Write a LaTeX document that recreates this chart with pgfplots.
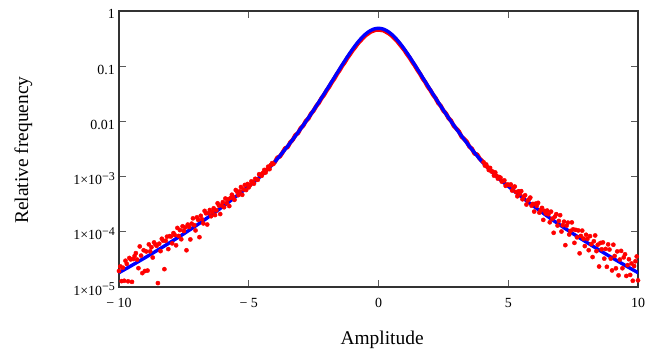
\documentclass[border=0pt]{standalone}
\usepackage{fontspec}
\setmainfont{Liberation Serif}
\usepackage{pgfplots}
\pgfplotsset{compat=1.18}
\newcommand{\ysup}[1]{1×10\raisebox{4.3bp}{\fontsize{12}{12}\selectfont −#1}}
\begin{document}
\begin{tikzpicture}
\begin{axis}[
  scale only axis, width=519bp, height=276bp,
  at={(0,0)}, anchor=south west,
  xmin=-10, xmax=10, ymin=1e-5, ymax=1, ymode=log,
  xtick={-10,-5,0,5,10},
  xticklabels={− 10,− 5,0,5,10},
  ytick={1e-5,1e-4,1e-3,1e-2,1e-1,1},
  yticklabels={\ysup{5},\ysup{4},\ysup{3},0.01,0.1,1},
  yminorticks=false, xminorticks=false,
  tick align=inside,
  major tick length=7bp,
  axis line style={black!80, line width=1.2bp},
  every tick/.style={black!65, line width=1.2bp},
  xticklabel style={font=\fontsize{14}{16}\selectfont, anchor=base, inner sep=0pt, yshift=-20bp},
  yticklabel style={font=\fontsize{14}{16}\selectfont, anchor=base east, inner sep=0pt, xshift=-4bp, yshift=-8bp},
  xlabel={Amplitude},
  xlabel style={font=\fontsize{19.5}{22}\selectfont, at={(axis description cs:0.507,-0.210)}, anchor=base, inner sep=0pt},
  ylabel={Relative frequency},
  ylabel style={font=\fontsize{19.5}{22}\selectfont, at={(axis description cs:-0.1753,0.496)}, anchor=base, inner sep=0pt},
]
% measured relative frequency (red), left tail
\addplot[only marks, mark=*, mark size=2.1bp, red, mark options={draw=red, fill=red}] coordinates {
(-10.00,1.950e-5) (-9.95,2.360e-5) (-9.90,1.276e-5) (-9.85,2.239e-5) (-9.80,1.297e-5) (-9.75,2.992e-5) (-9.70,2.624e-5) (-9.65,1.268e-5) (-9.60,3.357e-5) (-9.55,3.162e-5)
(-9.50,1.239e-5) (-9.45,3.214e-5) (-9.40,3.631e-5) (-9.35,4.111e-5) (-9.30,3.141e-5) (-9.25,2.193e-5) (-9.20,5.433e-5) (-9.15,3.707e-5) (-9.10,1.786e-5) (-9.05,4.634e-5)
(-9.00,1.950e-5) (-8.95,4.406e-5) (-8.90,1.986e-5) (-8.85,5.916e-5) (-8.80,4.426e-5) (-8.75,5.248e-5) (-8.70,3.420e-5) (-8.65,6.427e-5) (-8.60,5.929e-5) (-8.55,5.585e-5)
(-8.50,1.178e-5) (-8.45,6.095e-5) (-8.40,4.467e-5) (-8.35,7.482e-5) (-8.30,6.902e-5) (-8.25,2.104e-5) (-8.20,6.887e-5) (-8.15,8.166e-5) (-8.10,4.864e-5) (-8.05,8.337e-5)
(-8.00,8.241e-5) (-7.95,6.180e-5) (-7.90,9.462e-5) (-7.85,8.730e-5) (-7.80,5.689e-5) (-7.75,1.175e-4) (-7.70,8.414e-5) (-7.65,1.072e-4) (-7.60,7.328e-5) (-7.55,1.259e-4)
(-7.50,1.035e-4) (-7.45,1.202e-4) (-7.40,4.634e-5) (-7.35,1.352e-4) (-7.30,1.222e-4) (-7.25,7.278e-5) (-7.20,1.406e-4) (-7.15,1.754e-4) (-7.10,1.315e-4) (-7.05,1.059e-4)
(-7.00,1.824e-4) (-6.95,1.648e-4) (-6.90,7.998e-5) (-6.85,1.950e-4) (-6.80,1.683e-4) (-6.75,1.419e-4) (-6.70,2.393e-4) (-6.65,2.163e-4) (-6.60,1.355e-4) (-6.55,2.178e-4)
(-6.50,2.483e-4) (-6.45,1.914e-4) (-6.40,2.286e-4) (-6.35,2.667e-4) (-6.30,2.009e-4) (-6.25,2.455e-4) (-6.20,3.289e-4) (-6.15,2.985e-4) (-6.10,2.099e-4) (-6.05,3.020e-4)
(-6.00,3.443e-4) (-5.95,2.786e-4) (-5.90,4.009e-4) (-5.85,3.311e-4) (-5.80,3.873e-4) (-5.75,2.924e-4) (-5.70,4.111e-4) (-5.65,4.699e-4) (-5.60,4.276e-4) (-5.55,3.793e-4)
(-5.50,5.715e-4) (-5.45,5.321e-4) (-5.40,4.613e-4) (-5.35,5.408e-4) (-5.30,6.471e-4) (-5.25,4.677e-4) (-5.20,5.875e-4) (-5.15,7.047e-4) (-5.10,5.715e-4) (-5.05,7.345e-4)
(-5.00,6.383e-4) (-4.95,6.982e-4) (-4.90,8.185e-4) (-4.85,7.980e-4) (-4.80,7.430e-4) (-4.75,9.120e-4) (-4.70,8.933e-4) (-4.65,8.750e-4) (-4.60,1.104e-3) (-4.55,1.081e-3)
(-4.50,1.035e-3) (-4.45,1.169e-3) (-4.40,1.321e-3) (-4.35,1.186e-3) (-4.30,1.340e-3) (-4.25,1.514e-3) (-4.20,1.365e-3) (-4.15,1.622e-3) (-4.10,1.754e-3) (-4.05,1.694e-3)
};
% measured relative frequency (red), centre
\addplot[red, line width=4.2bp, line join=round, line cap=round] coordinates {
(-4.0,1.801e-3) (-3.9,2.213e-3) (-3.8,2.308e-3) (-3.7,2.715e-3) (-3.6,3.261e-3) (-3.5,3.419e-3) (-3.4,4.177e-3) (-3.3,4.672e-3) (-3.2,5.668e-3) (-3.1,6.124e-3)
(-3.0,7.548e-3) (-2.9,8.360e-3) (-2.8,1.016e-2) (-2.7,1.130e-2) (-2.6,1.380e-2) (-2.5,1.566e-2) (-2.4,1.892e-2) (-2.3,2.157e-2) (-2.2,2.619e-2) (-2.1,3.011e-2)
(-2.0,3.631e-2) (-1.9,4.228e-2) (-1.8,5.113e-2) (-1.7,5.961e-2) (-1.6,7.209e-2) (-1.5,8.444e-2) (-1.4,0.1014) (-1.3,0.1176) (-1.2,0.1411) (-1.1,0.1641)
(-1.0,0.1926) (-0.9,0.2209) (-0.8,0.2565) (-0.7,0.2884) (-0.6,0.3255) (-0.5,0.3621) (-0.4,0.3902) (-0.3,0.4223) (-0.2,0.4392) (-0.1,0.4574)
(0,0.4596) (0.1,0.4526) (0.2,0.4438) (0.3,0.4178) (0.4,0.3923) (0.5,0.3621) (0.6,0.3237) (0.7,0.2930) (0.8,0.2552) (0.9,0.2233)
(1.0,0.1946) (1.1,0.1649) (1.2,0.1425) (1.3,0.1195) (1.4,0.1024) (1.5,8.532e-2) (1.6,7.283e-2) (1.7,5.993e-2) (1.8,5.166e-2) (1.9,4.250e-2)
(2.0,3.668e-2) (2.1,3.042e-2) (2.2,2.645e-2) (2.3,2.146e-2) (2.4,1.911e-2) (2.5,1.558e-2) (2.6,1.393e-2) (2.7,1.142e-2) (2.8,1.025e-2) (2.9,8.275e-3)
(3.0,7.401e-3) (3.1,6.566e-3) (3.2,5.287e-3) (3.3,4.813e-3) (3.4,4.300e-3) (3.5,3.490e-3) (3.6,3.199e-3) (3.7,2.606e-3) (3.8,2.522e-3) (3.9,2.109e-3)
(4.0,1.912e-3)
};
% measured relative frequency (red), right tail
\addplot[only marks, mark=*, mark size=2.1bp, red, mark options={draw=red, fill=red}] coordinates {
(4.05,1.820e-3) (4.10,1.585e-3) (4.15,1.660e-3) (4.20,1.496e-3) (4.25,1.318e-3) (4.30,1.435e-3) (4.35,1.242e-3) (4.40,1.233e-3) (4.45,1.042e-3) (4.50,1.189e-3)
(4.55,1.033e-3) (4.60,9.183e-4) (4.65,9.817e-4) (4.70,9.572e-4) (4.75,8.128e-4) (4.80,8.337e-4) (4.85,8.551e-4) (4.90,6.808e-4) (4.95,7.145e-4) (5.00,7.161e-4)
(5.05,7.015e-4) (5.10,7.194e-4) (5.15,5.598e-4) (5.20,6.295e-4) (5.25,6.607e-4) (5.30,5.260e-4) (5.35,4.395e-4) (5.40,5.420e-4) (5.45,4.853e-4) (5.50,5.458e-4)
(5.55,3.881e-4) (5.60,4.375e-4) (5.65,4.592e-4) (5.70,3.119e-4) (5.75,3.681e-4) (5.80,3.873e-4) (5.85,4.169e-4) (5.90,2.972e-4) (5.95,3.199e-4) (6.00,2.328e-4)
(6.05,3.236e-4) (6.10,2.965e-4) (6.15,3.350e-4) (6.20,2.223e-4) (6.25,2.455e-4) (6.30,2.710e-4) (6.35,1.644e-4) (6.40,2.393e-4) (6.45,2.148e-4) (6.50,2.427e-4)
(6.55,2.080e-4) (6.60,1.486e-4) (6.65,2.317e-4) (6.70,1.734e-4) (6.75,9.594e-5) (6.80,1.888e-4) (6.85,2.089e-4) (6.90,1.297e-4) (6.95,1.574e-4) (7.00,2.000e-4)
(7.05,1.012e-4) (7.10,1.315e-4) (7.15,1.528e-4) (7.20,5.728e-5) (7.25,1.294e-4) (7.30,1.469e-4) (7.35,8.933e-5) (7.40,1.038e-4) (7.45,1.479e-4) (7.50,1.109e-4)
(7.55,6.310e-5) (7.60,1.084e-4) (7.65,7.943e-5) (7.70,1.059e-4) (7.75,4.074e-5) (7.80,8.414e-5) (7.85,1.050e-4) (7.90,7.516e-5) (7.95,5.508e-5) (8.00,8.831e-5)
(8.05,7.430e-5) (8.10,4.645e-5) (8.15,8.356e-5) (8.20,5.998e-5) (8.25,3.491e-5) (8.30,6.745e-5) (8.35,8.590e-5) (8.40,4.467e-5) (8.45,5.821e-5) (8.50,2.350e-5)
(8.55,6.266e-5) (8.60,4.819e-5) (8.65,6.427e-5) (8.70,3.266e-5) (8.75,4.898e-5) (8.80,2.323e-5) (8.85,5.916e-5) (8.90,4.764e-5) (8.95,3.266e-5) (9.00,1.995e-5)
(9.05,5.834e-5) (9.10,3.648e-5) (9.15,2.183e-5) (9.20,4.416e-5) (9.25,1.626e-5) (9.30,3.141e-5) (9.35,4.508e-5) (9.40,2.188e-5) (9.45,3.443e-5) (9.50,3.917e-5)
(9.55,1.585e-5) (9.60,2.489e-5) (9.65,3.184e-5) (9.70,1.656e-5) (9.75,2.667e-5) (9.80,1.297e-5) (9.85,2.399e-5) (9.90,2.924e-5) (9.95,3.573e-5) (10.00,1.318e-5)
};
% fitted density (blue)
\addplot[blue, line width=3.4bp, line join=round, line cap=round] coordinates {
(-10,1.820e-5) (-9.75,2.118e-5) (-9.5,2.472e-5) (-9.25,2.891e-5) (-9,3.388e-5) (-8.75,3.981e-5) (-8.5,4.688e-5) (-8.25,5.534e-5) (-8,6.546e-5) (-7.75,7.762e-5)
(-7.5,9.226e-5) (-7.25,1.102e-4) (-7,1.321e-4) (-6.75,1.592e-4) (-6.5,1.928e-4) (-6.25,2.344e-4) (-6,2.864e-4) (-5.75,3.516e-4) (-5.5,4.335e-4) (-5.25,5.370e-4)
(-5,6.683e-4) (-4.75,8.318e-4) (-4.5,1.059e-3) (-4.25,1.380e-3)
(-4.0,1.838e-3) (-3.9,2.088e-3) (-3.8,2.379e-3) (-3.7,2.715e-3) (-3.6,3.106e-3) (-3.5,3.561e-3) (-3.4,4.095e-3) (-3.3,4.719e-3) (-3.2,5.450e-3) (-3.1,6.313e-3)
(-3.0,7.328e-3) (-2.9,8.531e-3) (-2.8,9.956e-3) (-2.7,1.165e-2) (-2.6,1.366e-2) (-2.5,1.606e-2) (-2.4,1.892e-2) (-2.3,2.235e-2) (-2.2,2.645e-2) (-2.1,3.136e-2)
(-2.0,3.724e-2) (-1.9,4.427e-2) (-1.8,5.271e-2) (-1.7,6.275e-2) (-1.6,7.470e-2) (-1.5,8.888e-2) (-1.4,0.1056) (-1.3,0.1251) (-1.2,0.1477) (-1.1,0.1736)
(-1.0,0.2027) (-0.9,0.2350) (-0.8,0.2700) (-0.7,0.3068) (-0.6,0.3444) (-0.5,0.3812) (-0.4,0.4151) (-0.3,0.4445) (-0.2,0.4672) (-0.1,0.4815)
(0,0.4864) (0.1,0.4815) (0.2,0.4672) (0.3,0.4445) (0.4,0.4151) (0.5,0.3812) (0.6,0.3444) (0.7,0.3068) (0.8,0.2700) (0.9,0.2350)
(1.0,0.2027) (1.1,0.1736) (1.2,0.1477) (1.3,0.1251) (1.4,0.1056) (1.5,8.888e-2) (1.6,7.470e-2) (1.7,6.275e-2) (1.8,5.271e-2) (1.9,4.427e-2)
(2.0,3.724e-2) (2.1,3.136e-2) (2.2,2.645e-2) (2.3,2.235e-2) (2.4,1.892e-2) (2.5,1.606e-2) (2.6,1.366e-2) (2.7,1.165e-2) (2.8,9.956e-3) (2.9,8.531e-3)
(3.0,7.328e-3) (3.1,6.313e-3) (3.2,5.450e-3) (3.3,4.719e-3) (3.4,4.095e-3) (3.5,3.561e-3) (3.6,3.106e-3) (3.7,2.715e-3) (3.8,2.379e-3) (3.9,2.088e-3)
(4.0,1.838e-3)
(4.25,1.380e-3) (4.5,1.059e-3) (4.75,8.318e-4) (5,6.683e-4) (5.25,5.370e-4) (5.5,4.335e-4) (5.75,3.516e-4) (6,2.864e-4) (6.25,2.344e-4) (6.5,1.928e-4)
(6.75,1.592e-4) (7,1.321e-4) (7.25,1.102e-4) (7.5,9.226e-5) (7.75,7.762e-5) (8,6.546e-5) (8.25,5.534e-5) (8.5,4.688e-5) (8.75,3.981e-5) (9,3.388e-5)
(9.25,2.891e-5) (9.5,2.472e-5) (9.75,2.118e-5) (10,1.820e-5)
};
\end{axis}
\path (-119bp,-63bp) rectangle (547bp,287bp);
\end{tikzpicture}
\end{document}
